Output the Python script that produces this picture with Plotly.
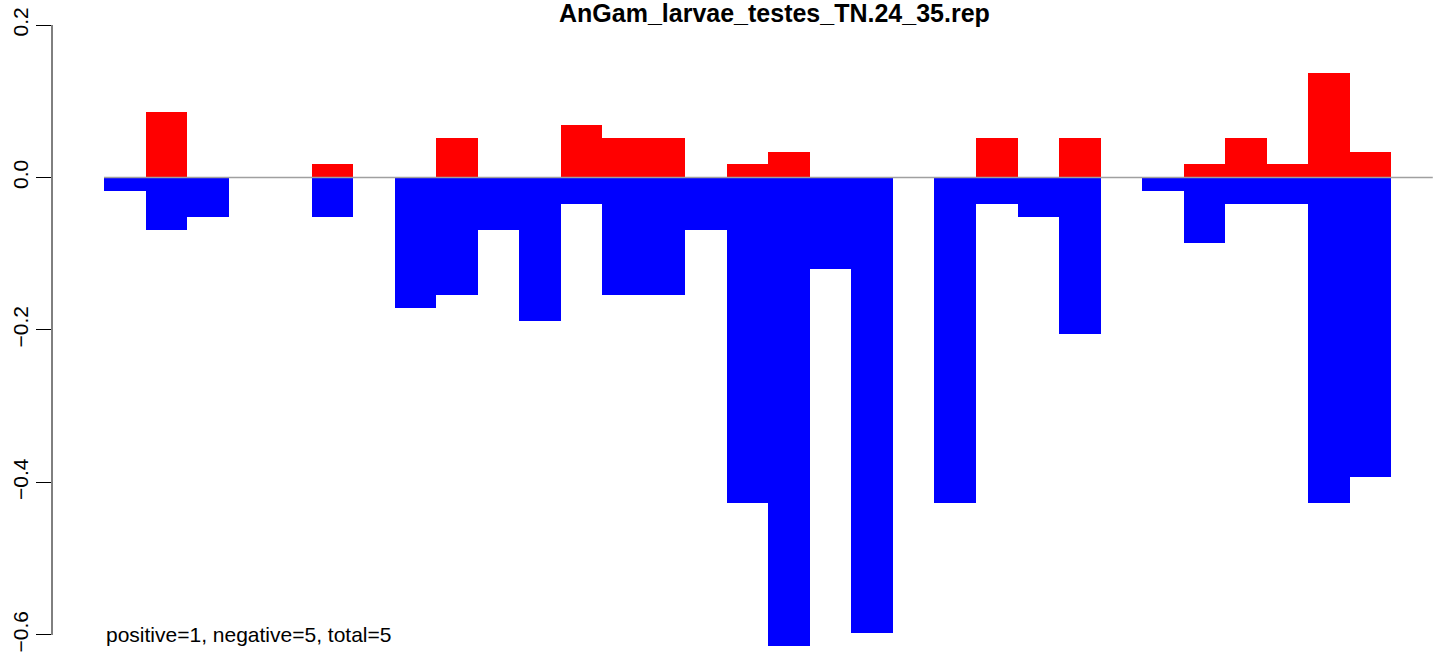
import plotly.graph_objects as go

# one slot per bin, the last bin is empty
bins = list(range(32))
positive = [0, 0.0854, 0, 0, 0, 0.0171, 0, 0, 0.0512, 0, 0, 0.0683, 0.0512, 0.0512, 0, 0.0171,
            0.0341, 0, 0, 0, 0, 0.0512, 0, 0.0512, 0, 0, 0.0171, 0.0512, 0.0171, 0.1366, 0.0341, 0]
negative = [-0.0171, -0.0683, -0.0512, 0, 0, -0.0512, 0, -0.1707, -0.1536, -0.0683, -0.1878,
            -0.0341, -0.1536, -0.1536, -0.0683, -0.4268, -0.6145, -0.1195, -0.5975, 0, -0.4268,
            -0.0341, -0.0512, -0.2048, 0, -0.0171, -0.0854, -0.0341, -0.0341, -0.4268, -0.3926, 0]
y_ticks = [0.2, 0.0, -0.2, -0.4, -0.6]
y_tick_text = ['0.2', '0.0', '\u22120.2', '\u22120.4', '\u22120.6']
title = 'AnGam_larvae_testes_TN.24_35.rep'
summary = 'positive=1, negative=5, total=5'

font = 'Liberation Sans, Arial, Helvetica, sans-serif'
centers = [b + 0.5 for b in bins]

W, H = 1444, 657

fig = go.Figure()
fig.add_trace(go.Bar(x=centers, y=positive, width=1, marker=dict(color='#ff0000', line=dict(width=0)),
                     hoverinfo='y', showlegend=False))
fig.add_trace(go.Bar(x=centers, y=negative, width=1, marker=dict(color='#0000ff', line=dict(width=0)),
                     hoverinfo='y', showlegend=False))
fig.add_trace(go.Scatter(x=[0, len(bins)], y=[0, 0], mode='lines',
                         line=dict(color='#a0a0a0', width=1.5), hoverinfo='skip', showlegend=False))

# y axis line only between first and last tick, like R
fig.add_shape(type='line', xref='paper', yref='y', x0=0, x1=0, y0=min(y_ticks), y1=max(y_ticks),
              line=dict(color='black', width=1))

fig.add_annotation(text=summary, x=0, y=min(y_ticks), xref='x', yref='y', xanchor='left',
                   yanchor='middle', showarrow=False, font=dict(family=font, size=21, color='black'))
fig.add_annotation(text='<b>' + title + '</b>', x=(992 - 52) / 1392, y=1 - 13 / H, xref='paper',
                   yref='paper', xanchor='right', yanchor='middle', showarrow=False,
                   font=dict(family=font, size=25, color='black'))

fig.update_layout(
    width=W, height=H,
    margin=dict(l=52, r=0, t=0, b=0, autoexpand=False),
    barmode='relative', bargap=0,
    plot_bgcolor='white', paper_bgcolor='white',
    xaxis=dict(range=[-1.252, 32.27], visible=False, fixedrange=True),
    yaxis=dict(range=[-0.6289, 0.2328], tickvals=y_ticks, ticktext=y_tick_text, tickangle=-90,
               ticks='outside', ticklen=15, tickwidth=1, tickcolor='black', showline=False,
               showgrid=False, zeroline=False, automargin=False, ticklabeloverflow='allow',
               tickfont=dict(family=font, size=21, color='black'), fixedrange=True),
)

# drop the default body margin so the figure sits at the window's corner
fig.write_html('out.html', config={'displayModeBar': False},
               post_script="document.body.style.margin='0';")
